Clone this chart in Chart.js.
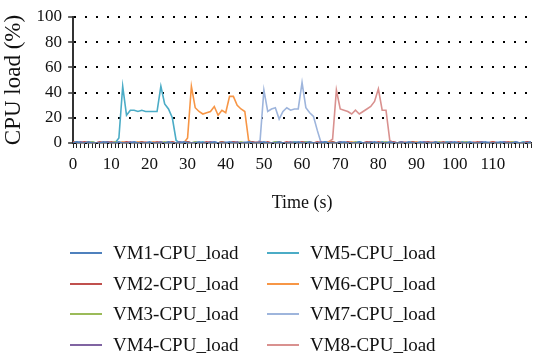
<!DOCTYPE html>
<html>
<head>
<meta charset="utf-8">
<script src="https://cdn.jsdelivr.net/npm/chart.js@4.4.1/dist/chart.umd.min.js"></script>
<style>
  html, body { margin: 0; padding: 0; background: #fff; }
  #wrap { position: relative; width: 537px; height: 356px; overflow: hidden; }
  #legend {
    position: absolute; left: 70px; top: 238px;
    display: grid; grid-template-rows: repeat(4, 30.5px); grid-auto-flow: column;
    grid-template-columns: 197px 200px;
    font-family: "Liberation Serif", "DejaVu Serif", serif; font-size: 19px; color: #111;
  }
  .item { display: flex; align-items: center; white-space: nowrap; }
  .swatch { width: 32px; height: 2px; margin-right: 11px; }
</style>
</head>
<body>
<div id="wrap">
  <canvas id="chart" width="537" height="356"></canvas>
  <div id="legend"></div>
</div>
<script>
// sample times in seconds (one sample per second)
const times = Array.from({length: 121}, (_, i) => i);

const names = ["VM1-CPU_load", "VM2-CPU_load", "VM3-CPU_load", "VM4-CPU_load",
               "VM5-CPU_load", "VM6-CPU_load", "VM7-CPU_load", "VM8-CPU_load"];
const colors = ["#4f81bd", "#c0504d", "#9bbb59", "#8064a2",
                "#4bacc6", "#f79646", "#9eb5dc", "#d9918f"];

// CPU load (%) per VM
const vm1 = [0,1,0,0,1,0,0,0,1,0, 0,0,1,0,0,0,1,0,0,0, 1,0,0,0,0,1,0,0,0,1, 0,0,0,1,0,0,0,1,0,0,
             0,1,0,0,0,0,1,0,0,0, 1,0,0,0,1,0,0,0,0,1, 0,0,1,0,0,0,1,0,0,0, 0,1,0,0,0,1,0,0,0,1,
             0,0,0,1,0,0,0,0,1,0, 0,1,0,0,0,1,0,0,0,0, 1,0,0,0,1,0,0,0,1,0, 0,0,1,0,0,0,1,0,0,0,1];
const vm2 = [1,0,0,1,0,0,0,1,0,0, 1,0,0,0,1,0,0,0,1,0, 0,0,1,0,0,0,1,0,0,0, 1,0,0,0,0,1,0,0,0,1,
             0,0,1,0,0,0,0,1,0,0, 0,1,0,0,0,0,1,0,0,0, 1,0,0,0,1,0,0,0,1,0, 0,0,1,0,0,0,0,1,0,0,
             1,0,0,0,1,0,0,0,0,1, 0,0,0,1,0,0,0,1,0,0, 0,1,0,0,0,0,1,0,0,0, 1,0,0,0,1,0,0,0,0,1,0];
const vm3 = [0,0,0,0,0,1,0,0,0,0, 0,1,0,0,0,0,0,0,1,0, 0,0,0,0,1,0,0,0,0,0, 0,0,1,0,0,0,0,0,0,1,
             0,0,0,0,1,0,0,0,0,0, 0,0,0,1,0,0,0,0,0,0, 0,1,0,0,0,0,0,0,1,0, 0,0,0,0,1,0,0,0,0,0,
             0,0,1,0,0,0,0,0,0,1, 0,0,0,0,0,0,1,0,0,0, 0,0,0,1,0,0,0,0,0,0, 0,0,0,0,0,1,0,0,0,0,0];
const vm4 = [0,0,1,0,0,0,0,0,0,1, 0,0,0,0,0,1,0,0,0,0, 0,0,0,1,0,0,0,0,1,0, 0,0,0,0,0,0,1,0,0,0,
             0,0,0,1,0,0,0,0,0,1, 0,0,0,0,0,0,0,1,0,0, 0,0,0,0,0,1,0,0,0,0, 1,0,0,0,0,0,0,0,1,0,
             0,0,0,0,0,0,1,0,0,0, 0,0,1,0,0,0,0,0,0,1, 0,0,0,0,0,0,0,1,0,0, 0,0,0,1,0,0,0,0,0,1,0];
const vm5 = [0,1,0,0,0,1,0,0,0,1, 0,0,4,45,22,26,26,25,26,25, 25,25,25,45,31,27,20,2,0,0, 1,0,0,0,1,0,0,0,0,1,
             0,0,1,0,0,0,0,1,0,0, 0,0,0,1,0,0,0,0,1,0, 0,1,0,0,0,0,1,0,0,0, 1,0,0,0,0,1,0,0,0,0,
             0,1,0,0,0,0,1,0,0,0, 0,0,0,1,0,0,0,0,1,0, 0,0,1,0,0,0,0,1,0,0, 0,0,0,1,0,0,0,0,1,0,0];
const vm6 = [1,0,0,0,1,0,0,0,0,1, 0,0,0,1,0,0,0,1,0,0, 0,1,0,0,0,0,1,0,0,0, 4,45,28,25,23,24,25,29,22,26,
             24,37,37,30,27,25,2,0,0,1, 0,0,0,0,1,0,0,0,1,0, 0,0,1,0,0,0,0,1,0,0, 0,0,0,1,0,0,0,0,1,0,
             0,1,0,0,0,0,1,0,0,0, 1,0,0,0,0,1,0,0,0,0, 0,0,1,0,0,0,0,1,0,0, 1,0,0,0,0,1,0,0,0,0,1];
const vm7 = [0,0,1,0,0,0,0,1,0,0, 0,1,0,0,0,0,1,0,0,0, 0,0,0,1,0,0,0,0,1,0, 0,0,1,0,0,0,0,1,0,0,
             1,0,0,0,0,1,0,0,0,2, 42,25,27,28,19,25,28,26,27,27, 48,28,24,21,10,0,0,1,0,0, 0,0,1,0,0,0,0,1,0,0,
             0,0,0,0,1,0,0,0,0,1, 0,0,1,0,0,0,0,0,1,0, 0,0,0,1,0,0,0,0,0,1, 0,1,0,0,0,0,1,0,0,0,0];
const vm8 = [0,0,0,1,0,0,0,0,1,0, 0,0,0,0,1,0,0,0,0,1, 0,0,0,0,0,1,0,0,0,0, 1,0,0,0,0,0,1,0,0,0,
             0,0,1,0,0,0,0,0,1,0, 0,0,0,0,1,0,0,0,0,0, 1,0,0,0,0,0,0,1,3,42, 27,26,25,23,26,23,25,27,29,33,
             43,26,26,2,0,0,0,1,0,0, 0,0,0,0,1,0,0,0,0,1, 0,0,0,0,0,1,0,0,0,0, 1,0,0,0,0,0,1,0,0,0,0];
const series = [vm1, vm2, vm3, vm4, vm5, vm6, vm7, vm8];

const yTicks = [0, 20, 40, 60, 80, 100];

const serif = "'Liberation Serif', 'DejaVu Serif', serif";

let myChart = new Chart(document.getElementById("chart"), {
    type: "line",
    data: {
        labels: times,
        datasets: series.map((s, i) => ({
            label: names[i],
            data: s,
            borderColor: colors[i],
            backgroundColor: colors[i],
            borderWidth: 1.6,
            pointRadius: 0,
            tension: 0,
        })),
    },
    options: {
        responsive: false,
        animation: false,
        layout: { padding: { left: 0, right: 0, top: 17, bottom: 142 } },
        plugins: {
            legend: { display: false },
            tooltip: { enabled: false },
        },
        scales: {
            x: {
                type: "linear",
                min: 0,
                max: 120,
                border: { color: "#222", width: 1.5 },
                grid: { drawOnChartArea: false, tickLength: 5, tickColor: "#222", tickWidth: 1 },
                ticks: {
                    stepSize: 1,
                    autoSkip: false,
                    maxRotation: 0,
                    minRotation: 0,
                    padding: 6,
                    color: "#111",
                    font: { family: serif, size: 17 },
                    callback: (v) => (v % 10 === 0 && v <= 110 ? v : ""),
                },
                title: {
                    display: true,
                    text: "Time (s)",
                    color: "#111",
                    font: { family: serif, size: 18 },
                    padding: { top: 12, bottom: 0 },
                },
            },
            y: {
                min: 0,
                max: 100,
                // dotted horizontal grid lines
                border: { color: "#333", width: 2, dash: [2, 9] },
                grid: {
                    color: "#000",
                    lineWidth: 2,
                    tickLength: 5,
                    tickColor: "#333",
                    tickWidth: 1.5,
                    tickBorderDash: [],
                },
                afterBuildTicks: (axis) => { axis.ticks = yTicks.map((v) => ({ value: v })); },
                ticks: {
                    padding: 6,
                    color: "#111",
                    font: { family: serif, size: 17 },
                },
                title: {
                    display: true,
                    text: "CPU load (%)",
                    color: "#111",
                    font: { family: serif, size: 23 },
                    padding: { top: 0, bottom: 3 },
                },
            },
        },
    },
});

// legend in two columns, VM1-4 left, VM5-8 right
const legend = document.getElementById("legend");
myChart.data.datasets.forEach((ds) => {
    const item = document.createElement("div");
    item.className = "item";
    const sw = document.createElement("span");
    sw.className = "swatch";
    sw.style.background = ds.borderColor;
    item.appendChild(sw);
    item.appendChild(document.createTextNode(ds.label));
    legend.appendChild(item);
});
</script>
</body>
</html>
